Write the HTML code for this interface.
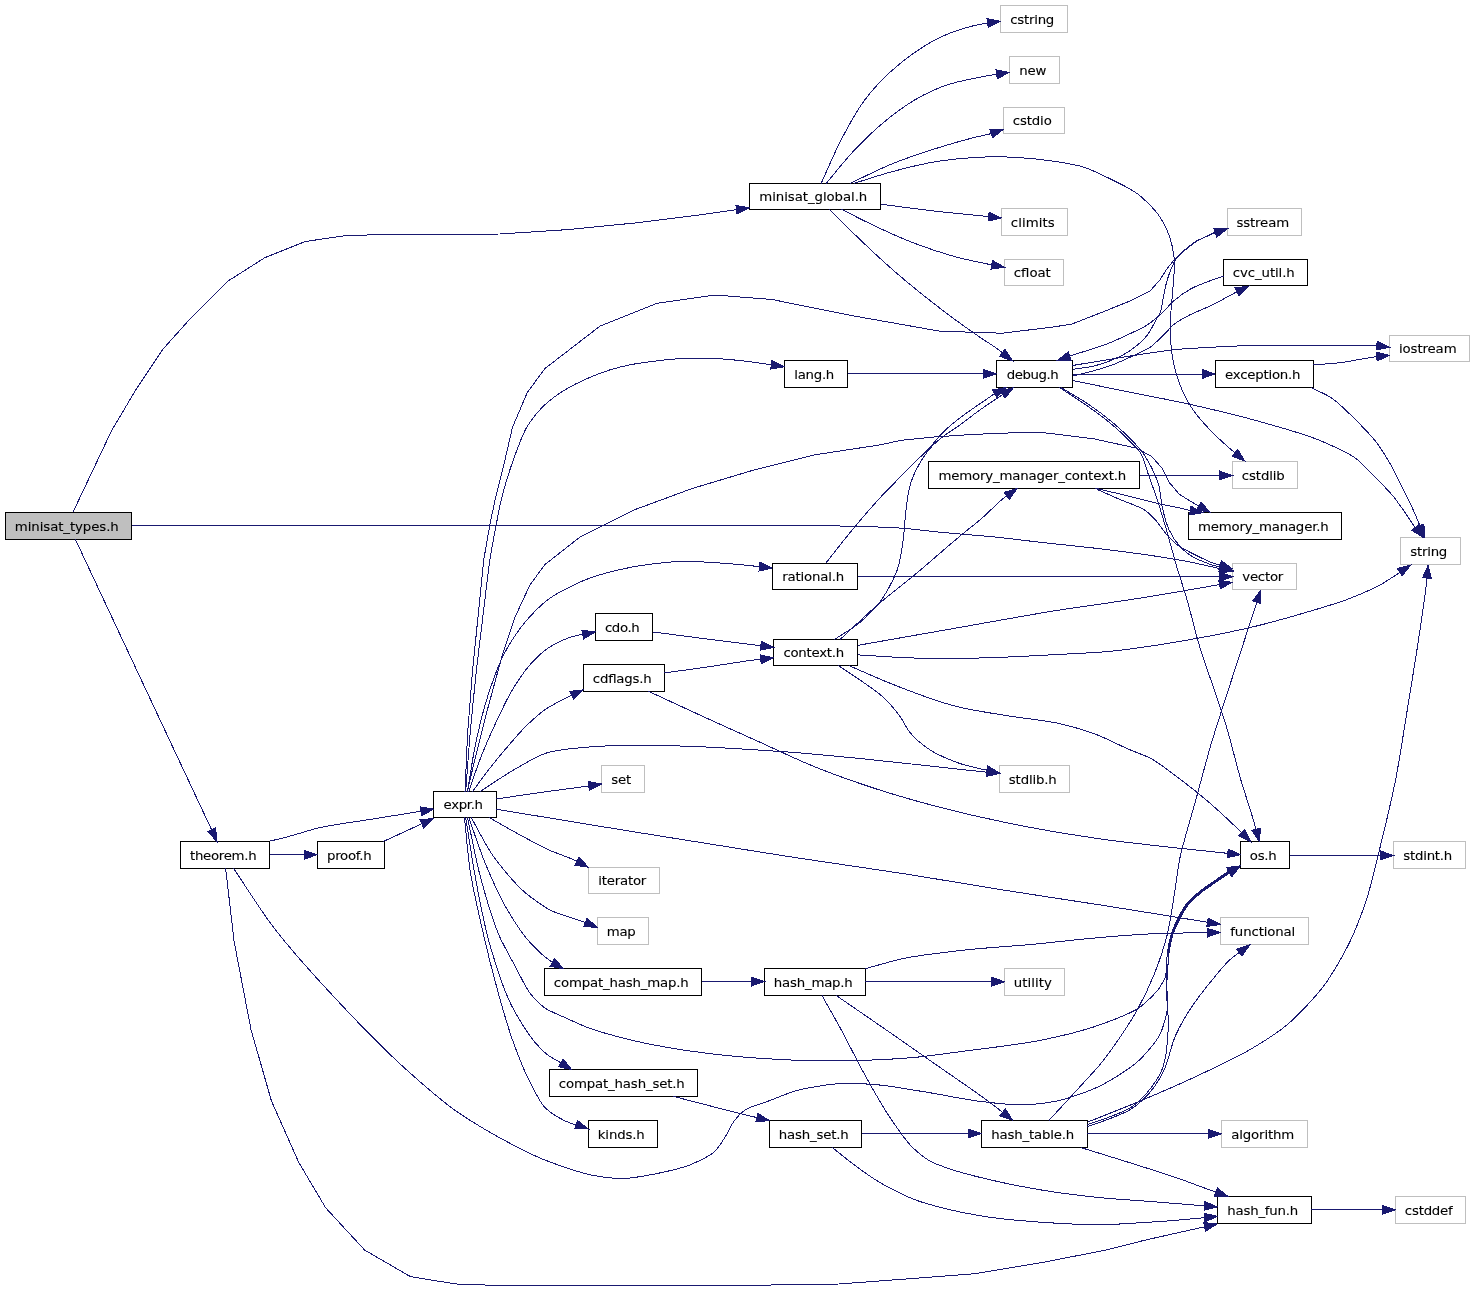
<!DOCTYPE html>
<html><head><meta charset="utf-8"><title>minisat_types.h include graph</title>
<style>html,body{margin:0;padding:0;background:#fff}svg{display:block}text{stroke:#000;stroke-width:0.12px;font-family:"DejaVu Sans","Liberation Sans",sans-serif;font-size:13.33px;fill:#000;text-anchor:middle}.e{fill:none;stroke:#191970;stroke-width:1}.a{fill:#191970;stroke:#191970;stroke-width:1}.f{fill:#fff;stroke:#000}.s{fill:#fff;stroke:#bfbfbf}.r{fill:#bfbfbf;stroke:#000}</style></head><body>
<svg width="1474" height="1290" viewBox="0 0 1474 1290" style="will-change:transform">
<rect x="0" y="0" width="1474" height="1290" fill="#fff"/>
<g shape-rendering="crispEdges">
<rect class="r" x="5.5" y="512.5" width="126" height="27"/>
<rect class="f" x="180.5" y="841.5" width="89" height="27"/>
<rect class="f" x="317.5" y="841.5" width="67" height="27"/>
<rect class="f" x="433.5" y="791.5" width="63" height="26"/>
<rect class="f" x="749.5" y="183.5" width="131" height="26"/>
<rect class="f" x="784.5" y="360.5" width="63" height="27"/>
<rect class="f" x="772.5" y="563.5" width="85" height="26"/>
<rect class="f" x="773.5" y="639.5" width="84" height="26"/>
<rect class="f" x="595.5" y="613.5" width="57" height="27"/>
<rect class="f" x="583.5" y="664.5" width="81" height="27"/>
<rect class="s" x="601.5" y="765.5" width="43" height="27"/>
<rect class="s" x="588.5" y="867.5" width="71" height="26"/>
<rect class="s" x="597.5" y="917.5" width="51" height="27"/>
<rect class="f" x="544.5" y="968.5" width="157" height="27"/>
<rect class="f" x="549.5" y="1069.5" width="148" height="27"/>
<rect class="f" x="588.5" y="1120.5" width="69" height="27"/>
<rect class="f" x="764.5" y="968.5" width="101" height="27"/>
<rect class="f" x="769.5" y="1120.5" width="92" height="27"/>
<rect class="s" x="1000.5" y="5.5" width="67" height="27"/>
<rect class="s" x="1009.5" y="56.5" width="50" height="27"/>
<rect class="s" x="1003.5" y="107.5" width="61" height="26"/>
<rect class="s" x="1001.5" y="208.5" width="66" height="27"/>
<rect class="s" x="1004.5" y="259.5" width="59" height="26"/>
<rect class="f" x="996.5" y="360.5" width="76" height="27"/>
<rect class="f" x="928.5" y="461.5" width="211" height="27"/>
<rect class="s" x="999.5" y="765.5" width="70" height="27"/>
<rect class="s" x="1004.5" y="968.5" width="60" height="27"/>
<rect class="f" x="981.5" y="1120.5" width="106" height="27"/>
<rect class="s" x="1227.5" y="208.5" width="74" height="27"/>
<rect class="f" x="1223.5" y="259.5" width="84" height="26"/>
<rect class="f" x="1215.5" y="360.5" width="98" height="27"/>
<rect class="s" x="1232.5" y="461.5" width="65" height="27"/>
<rect class="f" x="1188.5" y="512.5" width="153" height="27"/>
<rect class="s" x="1232.5" y="563.5" width="64" height="26"/>
<rect class="f" x="1240.5" y="841.5" width="49" height="27"/>
<rect class="s" x="1220.5" y="917.5" width="88" height="27"/>
<rect class="s" x="1221.5" y="1120.5" width="86" height="27"/>
<rect class="f" x="1217.5" y="1196.5" width="94" height="27"/>
<rect class="s" x="1389.5" y="335.5" width="80" height="26"/>
<rect class="s" x="1400.5" y="537.5" width="60" height="27"/>
<rect class="s" x="1393.5" y="841.5" width="72" height="27"/>
<rect class="s" x="1395.5" y="1196.5" width="70" height="27"/>
</g>
<g class="e" shape-rendering="crispEdges">
<path d="M72.9,512.4C72.9,512.4 111.9,430 111.9,430C111.9,430 135.7,390.1 135.7,390.1C135.7,390.1 162.8,349.4 162.8,349.4C162.8,349.4 190,318.9 190,318.9C190,318.9 227.3,281.5 227.3,281.5C227.3,281.5 264.6,257.8 264.6,257.8C264.6,257.8 305.3,241.5 305.3,241.5C305.3,241.5 349.4,235.1 349.4,235.1C349.4,235.1 424,234.7 424,234.7C424,234.7 500,234 500,234C500,234 567.8,229.6 567.8,229.6C567.8,229.6 635.7,222.9 635.7,222.9C635.7,222.9 703.5,214.4 703.5,214.4C703.5,214.4 749.3,207.9 749.3,207.9"/>
<path d="M131.6,525.6C173.7,525.6 257.9,525.6 300,525.6C350,525.6 450,525.6 500,525.6C550,525.6 650,525.6 700,525.6C725,525.6 775,525.6 800,525.7C810,525.8 829.9,525.8 839.9,526C856.7,526.3 890.3,527.2 907,528.6C915.2,529.3 931.6,531.4 939.8,532.2C954.8,533.7 985,535.9 1000,537.5C1009.9,538.6 1029.7,541.1 1039.6,542.2C1056.7,544.2 1090.9,547.5 1108,549.7C1123.1,551.6 1153.4,555.7 1168.4,558.2C1173.8,559.1 1184.6,560.9 1190,562C1197,563.4 1210.8,566.6 1217.7,568.1C1221.4,568.9 1228.8,570.6 1232.5,571.4"/>
<path d="M75.3,539.2L217.1,841.5"/>
<path d="M821.1,183.5C825.8,173.2 834.7,152.4 839.9,142.3C845.5,131.4 857.4,109.7 864.8,99.9C870.4,92.5 883,78.7 889.8,72.4C895.7,67 908.2,56.9 914.8,52.4C920.8,48.3 933.2,40.6 939.8,37.5C945.8,34.6 958.3,29.9 964.7,28C969.9,26.5 980.6,24.1 986,23.2C989.6,22.6 996.8,21.7 1000.4,21.2"/>
<path d="M826.1,183.5C832.7,175.7 845.4,159.7 852.4,152.3C861.1,143 879.7,125.3 889.8,117.4C895.8,112.7 908.2,103.8 914.8,99.9C922.5,95.4 938.7,87.7 947.2,84.9C953.3,82.9 965.9,80 972.2,78.7C978.4,77.4 990.9,75.2 997.2,74.2C1000.2,73.7 1006.4,72.9 1009.4,72.4"/>
<path d="M849.9,183.5C859.9,178.8 879.6,169 889.8,164.8C902,159.7 927.1,151.2 939.8,147.3C949.1,144.4 967.8,139.1 977.2,136.8C980.6,136 987.6,134.6 991,133.6C994.2,132.7 1000.3,130.4 1003.4,129.3"/>
<path d="M880.6,204.2C895.4,206.1 925,210 939.8,211.7C952.3,213.1 977.2,215.3 989.7,216.7C992.6,217 998.5,217.7 1001.4,218"/>
<path d="M841.1,209.2C850.1,213.7 868.1,222.9 877.3,227.2C886.6,231.5 905.3,239.8 914.8,243.4C924,246.9 942.7,253.2 952.2,255.9C961.8,258.6 981.2,262.8 990.9,264.7C994.3,265.4 1001,266.6 1004.4,267.2"/>
<path d="M853.6,183.5C862.6,180.7 880.7,174.8 889.8,172.3C902.2,168.9 927.1,162.9 939.8,161C949.1,159.6 967.8,157.8 977.2,157.3C986.6,156.8 1005.3,156.8 1014.7,157.3C1024.1,157.8 1042.8,159.6 1052.1,161C1060.4,162.2 1077,164.8 1084.9,167.5C1090.9,169.5 1102.3,175 1108,177.8C1115.5,181.4 1130.7,188.7 1137.3,193.7C1143.3,198.2 1154.2,208.8 1158.5,214.9C1162.1,220.1 1167.8,231.4 1169.8,237.4C1171.6,242.8 1173.8,254.2 1174.3,259.9C1175,267.4 1173.3,282.3 1172.8,289.8C1172.3,297.9 1170.4,314.2 1170.3,322.3C1170.2,329.8 1170.8,344.8 1171.8,352.2C1172.7,358.5 1175.3,371.1 1177.3,377.2C1179.6,384.4 1185.8,398.3 1189.7,404.7C1193.8,411.5 1204.2,423.8 1209.7,429.6C1214.4,434.6 1224.5,443.9 1229.7,448.4C1233.4,451.6 1241,457.9 1244.7,461"/>
<path d="M829.4,209.2C835.1,214.9 846.6,226.5 852.4,232.2C861.6,241.1 880.2,258.7 889.8,267.2C898.9,275.3 917.7,290.8 927.3,298.4C935,304.5 950.6,316.3 958.5,322.1C963.8,326 974.6,333.6 980,337.3C983.7,339.8 991.3,344.6 995,347.2C999.5,350.4 1008.1,357.3 1012.5,360.7"/>
<path d="M269.6,841.2C273.8,840.2 282.2,838.2 286.4,837.1C294.3,835.1 309.8,830 317.7,828.1C331,824.9 358,821.4 371.5,819.2C383.8,817.2 408.4,813.3 420.7,811.3C424,810.8 430.4,809.7 433.7,809.2"/>
<path d="M269.7,854.7L317.2,854.7"/>
<path d="M383.3,841.5L433.5,818.4"/>
<path d="M233.4,868.1C242.9,882.2 261.2,910.9 271.4,924.5C286.9,945.2 321.5,983.6 339.2,1002.5C355.6,1020 389.2,1054.3 407.1,1070.3C418.7,1080.7 442.3,1101.3 455,1110.3C465.2,1117.5 486.5,1130.4 497.4,1136.5C508.4,1142.6 530.8,1154.2 542.4,1159C554.5,1164 579.4,1172.8 592.3,1175.2C599.7,1176.6 614.8,1178.6 622.3,1178.5C630.5,1178.4 646.7,1175.6 654.7,1174C664.2,1172.1 683.3,1167.9 692.2,1164C698.1,1161.4 710.1,1156 714.7,1151.5C717.7,1148.6 722.4,1141.4 724.7,1137.8C727.4,1133.6 731.5,1124.2 734.6,1120.3C736.8,1117.5 741.7,1112.4 744.6,1110.3C749.5,1106.7 761.5,1103.8 767.1,1101.6C774,1098.9 787.8,1093.2 794.9,1091.1C805.8,1087.9 828.5,1084.2 839.9,1083.6C849.2,1083.1 868,1084 877.3,1084.8C889.9,1085.8 914.8,1090.3 927.3,1092.3C939.8,1094.3 964.6,1099.4 977.2,1101C988.4,1102.4 1010.9,1105.1 1022.2,1104.8C1031.1,1104.6 1048.7,1102.7 1057.4,1100.9C1068.4,1098.6 1089.8,1091 1099.9,1086C1110.6,1080.7 1131.2,1068 1139.8,1059.7C1145.5,1054.1 1156.2,1041.9 1159.8,1034.8C1162.7,1029 1166.3,1016.2 1167.3,1009.8C1168.7,1000.8 1165.7,982.4 1166,973.3C1166.2,966.9 1167.1,953.9 1168.2,947.6C1168.9,943.8 1170.5,936.3 1171.7,932.6C1173.1,928.5 1176.8,920.6 1178.8,916.7C1180.6,913.3 1184.3,906.5 1186.7,903.5C1189.5,899.9 1196.5,894 1200,891.1C1204.2,887.7 1213.2,881.8 1217.6,878.7C1219.8,877.2 1224.2,874 1226.5,872.6C1229.8,870.6 1236.9,867.5 1240.4,865.8"/>
<path d="M225.6,868.1C225.6,868.1 234.1,941.4 234.1,941.4C234.1,941.4 251,1029.6 251,1029.6C251,1029.6 271.4,1100.8 271.4,1100.8C271.4,1100.8 298.5,1161.9 298.5,1161.9C298.5,1161.9 312,1184.8 312,1184.8C312,1184.8 325.6,1207.7 325.6,1207.7C325.6,1207.7 345.1,1228.9 345.1,1228.9C345.1,1228.9 364.7,1250.1 364.7,1250.1C364.7,1250.1 387.5,1263.3 387.5,1263.3C387.5,1263.3 410.4,1276.6 410.4,1276.6C410.4,1276.6 435.8,1280.8 435.8,1280.8C435.8,1280.8 461.3,1284.7 461.3,1284.7C461.3,1284.7 500,1285.2 500,1285.2C500,1285.2 600,1285.2 600,1285.2C600,1285.2 771.4,1285 771.4,1285C771.4,1285 839.2,1284 839.2,1284C839.2,1284 907.1,1278.9 907.1,1278.9C907.1,1278.9 974,1273.8 974,1273.8C974,1273.8 1044.6,1262.1 1044.6,1262.1C1044.6,1262.1 1108,1249.6 1108,1249.6C1108,1249.6 1144.3,1240.3 1144.3,1240.3C1144.3,1240.3 1217.2,1224 1217.2,1224"/>
<path d="M465,791.7C465,791.7 467.5,734.8 467.5,734.8C467.5,734.8 472.4,672.4 472.4,672.4C472.4,672.4 478.7,609.9 478.7,609.9C478.7,609.9 483.7,560 483.7,560C483.7,560 489.9,524.7 489.9,524.7C489.9,524.7 495,500 495,500C495,500 505,459.8 505,459.8C505,459.8 512.5,427.3 512.5,427.3C512.5,427.3 527.4,392.3 527.4,392.3C527.4,392.3 544.9,368.6 544.9,368.6C544.9,368.6 599.9,326.2 599.9,326.2C599.9,326.2 657.3,303.2 657.3,303.2C657.3,303.2 714.7,295 714.7,295C714.7,295 772.1,299.5 772.1,299.5C772.1,299.5 848,314.9 848,314.9C848,314.9 939.8,331.2 939.8,331.2C939.8,331.2 1002.2,333.2 1002.2,333.2C1002.2,333.2 1050,327.4 1050,327.4C1050,327.4 1071.2,324.3 1071.2,324.3C1071.2,324.3 1099.9,313.1 1099.9,313.1C1099.9,313.1 1131.1,300.6 1131.1,300.6C1131.1,300.6 1149.9,291.2 1149.9,291.2C1149.9,291.2 1160,279.8 1160,279.8C1160,279.8 1166.5,269.5 1166.5,269.5C1166.5,269.5 1174.1,259.7 1174.1,259.7C1174.1,259.7 1181.7,252.1 1181.7,252.1C1181.7,252.1 1195.8,241.3 1195.8,241.3C1195.8,241.3 1214.3,232.6 1214.3,232.6C1214.3,232.6 1227.6,228.7 1227.6,228.7"/>
<path d="M465.7,791.7C466.8,777.5 468.8,749 470,734.8C471.4,719.2 474.5,688 476.2,672.4C477.9,656.8 481.8,625.5 483.7,609.9C485.2,597.4 488,572.4 489.9,560C491.3,551.1 494.5,533.5 496.2,524.7C497.4,518.5 499.7,506.1 501.2,500C503.5,490.4 509.2,471.6 512.5,462.3C515.8,453.1 522.2,434.4 527.4,426.1C531.1,420.3 539.9,409.5 544.9,404.8C549.4,400.5 559.6,393.2 564.9,389.9C570.8,386.2 583.5,380.2 589.9,377.4C594.8,375.3 604.7,371.5 609.8,369.9C614.7,368.4 624.8,365.9 629.8,364.9C636,363.6 648.5,361.9 654.8,361.1C661,360.3 673.5,359 679.8,358.6C689.1,358 707.9,358.1 717.2,358.6C724.1,359 737.8,360.3 744.7,361.1C751.6,361.9 765.3,363.9 772.1,364.9C775.1,365.4 781.1,366.3 784.1,366.8"/>
<path d="M467,791.7C467,791.7 474.9,759.8 474.9,759.8C474.9,759.8 487.4,709.8 487.4,709.8C487.4,709.8 502.4,654.9 502.4,654.9C502.4,654.9 514.9,617.4 514.9,617.4C514.9,617.4 529.9,585 529.9,585C529.9,585 544.9,564.6 544.9,564.6C544.9,564.6 579.8,537.2 579.8,537.2C579.8,537.2 634.7,509.7 634.7,509.7C634.7,509.7 692.2,488.5 692.2,488.5C692.2,488.5 754.6,469.8 754.6,469.8C754.6,469.8 814.9,454.8 814.9,454.8C814.9,454.8 880,444.9 880,444.9C880,444.9 901.7,440.2 901.7,440.2C901.7,440.2 934.3,437 934.3,437C934.3,437 966.8,434.8 966.8,434.8C966.8,434.8 999.4,433.2 999.4,433.2C999.4,433.2 1040,432.3 1040,432.3C1040,432.3 1060,434.6 1060,434.6C1060,434.6 1094.1,438.9 1094.1,438.9C1094.1,438.9 1136.8,448.2 1136.8,448.2C1136.8,448.2 1152.1,456.8 1152.1,456.8C1152.1,456.8 1162.4,468.7 1162.4,468.7C1162.4,468.7 1169.2,482.4 1169.2,482.4C1169.2,482.4 1179.4,494.3 1179.4,494.3C1179.4,494.3 1193.1,502.8 1193.1,502.8C1193.1,502.8 1210.1,512.2 1210.1,512.2"/>
<path d="M467.5,791.7C469.4,780.6 472.6,758.3 474.9,747.3C477.5,734.7 483.5,709.6 487.4,697.3C491.1,685.8 499.2,663 504.9,652.4C509.2,644.5 519.1,629.3 524.9,622.4C530,616.3 541.1,604.9 547.4,600C555.8,593.5 575,584 584.8,580C595.6,575.6 618.4,569.8 629.8,567.5C642.1,565 667.1,561.9 679.7,561.4C692.2,560.9 717.1,562.8 729.6,563.7C740.3,564.5 761.6,566.9 772.3,568"/>
<path d="M468.7,791.7C471.5,783.7 476.8,767.7 479.9,759.8C483.3,750.9 490.9,733.4 494.9,724.8C499,715.9 507.3,698.2 512.4,689.8C516.4,683.3 524.8,670.6 529.9,664.9C533.9,660.4 542.5,652 547.4,648.6C552.5,645 563.9,639.5 569.8,637.4C575.9,635.2 588.9,633.3 595.3,631.9"/>
<path d="M472.4,791.7C475.5,787.5 481.7,778.9 484.9,774.7C489.7,768.3 499.7,755.9 504.9,749.8C509.8,744.1 519.5,732.6 524.9,727.3C529.6,722.6 539.4,713.6 544.9,709.8C549.6,706.5 559.7,701.2 564.8,698.6C569.4,696.3 578.7,692 583.3,689.8"/>
<path d="M479.9,791.7C487.4,786.8 502.2,776.8 509.9,772.2C518.4,767.1 535.6,756.9 544.9,753.5C559.1,748.4 589.7,747 604.8,746C623.5,744.7 661,745.5 679.7,746C698.4,746.5 735.9,748.6 754.6,749.8C765.5,750.5 787.2,751.9 798,752.8C813.5,754 844.4,757 859.9,758.5C884.9,761 934.8,766.6 959.8,769.3C969.7,770.4 989.6,772.5 999.5,773.5"/>
<path d="M496.4,799C507.9,797.3 530.9,793.8 542.4,792.2C551.7,790.9 570.5,788.5 579.8,787.2C585.2,786.4 596.1,784.8 601.5,784"/>
<path d="M496.4,809.2C514.3,812.2 550.1,818.1 568,821C586,824 622,829.9 640,832.8C660,836 700,842.4 720,845.6C739.5,848.7 778.5,855 798,858C825.9,862.3 881.9,870.2 909.8,874.6C932.4,878.2 977.4,885.9 1000,889.5C1025,893.5 1074.9,901 1099.9,904.9C1118.6,907.9 1156.1,913.8 1174.8,916.9C1186.2,918.8 1208.8,922.5 1220.2,924.4"/>
<path d="M488.7,817.3C495.9,821.3 510.2,829.6 517.4,833.5C525.4,837.9 541.5,846.7 549.9,850.4C556,853.1 568.7,857.4 574.8,860.2C578.3,861.8 585,865.5 588.4,867.2"/>
<path d="M471.2,817.5C476.5,826.9 486.3,846.1 492.4,854.9C499.5,865.1 515.4,884.4 524.9,892.4C531.2,897.8 544.8,907.6 552.3,911.1C556.5,913.1 565.4,915.9 569.8,917.4C573.5,918.7 581.1,920.9 584.8,922.3C588,923.5 594.2,926 597.3,927.3"/>
<path d="M468.7,817.5C472.8,828.7 480.3,851.4 484.9,862.4C489.9,874.5 500.7,898.6 507.4,909.9C512.4,918.4 523.2,935 529.9,942.3C535,947.8 546,958.2 552.3,962.3C555,964.1 560.8,967.2 563.6,968.8"/>
<path d="M467.5,817.5C470.6,831.9 476.1,860.7 479.9,874.9C484.1,890.7 493.1,922.4 499.9,937.3C503.5,945.2 512,960.4 516.1,968C519.5,974.3 525.5,987.4 529.9,993C533.2,997.2 540.6,1004.9 544.9,1008C549.4,1011.2 559.8,1015.2 564.8,1017.5C569.8,1019.8 579.7,1024.4 584.8,1026.4C596.9,1031.2 622.1,1037.9 634.7,1040.9C652,1045 687.1,1050.7 704.7,1053C717.1,1054.6 742.1,1057 754.6,1057.9C765.4,1058.7 787.1,1059.9 798,1060.3C811.6,1060.8 838.8,1060.9 852.4,1060.6C868,1060.3 899.2,1058.8 914.8,1057.4C927.3,1056.2 952.2,1052.7 964.7,1051.1C983.4,1048.6 1021.1,1044.3 1039.6,1040.5C1054.9,1037.4 1085.3,1030.1 1099.9,1024.8C1110.1,1021.1 1131.1,1013.8 1139.8,1007.3C1145.5,1003.1 1155.9,993.2 1159.8,987.3C1161.9,984.2 1165.5,977.5 1166.7,974C1168.8,967.9 1167.8,954.6 1168.9,948.3C1169.6,944.5 1171.2,937 1172.4,933.3C1173.8,929.2 1177.5,921.3 1179.5,917.4C1181.3,914 1185,907.2 1187.4,904.2C1190.2,900.6 1197.2,894.7 1200.7,891.8C1204.9,888.4 1213.9,882.5 1218.3,879.4C1220.5,877.9 1224.9,874.7 1227.2,873.3C1230.4,871.3 1237.1,867.7 1240.4,865.8"/>
<path d="M465.7,817.5C468,831.9 472.3,860.6 474.9,874.9C478.1,892.5 484.9,927.6 489.9,944.8C494.5,960.7 504.7,992.5 512.4,1007.2C517.2,1016.4 528,1034.4 534.9,1042.2C537.8,1045.5 543.9,1052 547.4,1054.7C550.3,1056.9 556.7,1060.3 559.8,1062.2C562.8,1064.1 568.8,1067.8 571.8,1069.7"/>
<path d="M464.5,817.5C465.9,830.6 468,856.9 470,869.9C472.3,885 479,914.9 482.4,929.8C485.8,944.9 493.3,974.9 497.4,989.8C500.9,1002.4 508,1027.4 512.4,1039.7C516.3,1050.5 524.6,1071.9 529.9,1082.1C533.3,1088.6 539.7,1102.2 544.9,1107.4C549.1,1111.7 559.4,1118.1 564.8,1120.8C570.4,1123.6 582.4,1127 588.3,1129"/>
<path d="M847.6,373.8L996.4,373.8"/>
<path d="M1072.5,369.3C1077.8,368.5 1088.5,367.4 1093.7,366.1C1098.5,364.9 1107.9,361.8 1112.4,359.9C1117.3,357.8 1126.8,353 1131.1,349.9C1135.6,346.7 1144,339.3 1147.4,334.9C1150.5,331 1154.9,321.9 1157.4,317.5C1158.1,316.4 1159.4,314.1 1160,312.9C1161.7,309.4 1162.5,301.5 1163.3,297.7C1164.1,293.9 1165.5,286.2 1166.5,282.5C1167.4,279.2 1169.6,272.7 1170.9,269.5C1172.1,266.7 1174.4,261 1176.3,258.6C1177.5,257.1 1180.3,254.5 1181.7,253.2C1185,250.1 1192,244.3 1195.8,241.9C1200.1,239.2 1209.5,235.1 1214.3,233.2C1217.6,231.9 1224.3,229.8 1227.6,228.7"/>
<path d="M1072.5,376.1C1076.9,375 1085.7,373 1090,371.8C1095.7,370.3 1106.9,366.9 1112.4,364.9C1118.2,362.7 1129.3,357.6 1134.9,354.9C1138.7,353.1 1146.4,349.8 1149.9,347.4C1153.4,345 1159.4,339.1 1162.4,336.2C1165.6,333.2 1171.3,326.4 1174.8,323.7C1177.7,321.5 1184.1,317.9 1187.3,316.2C1193.3,312.9 1206.2,308 1212.3,305C1218.6,301.9 1230.9,294.8 1237.2,291.6C1240,290.2 1245.6,287.5 1248.4,286.1"/>
<path d="M1223.4,276.1C1220.6,277.1 1215.1,279 1212.3,280C1206.9,282 1196.1,285.9 1191.1,288.7C1186.8,291.1 1178.6,296.8 1174.8,300C1170.7,303.4 1163.9,311.5 1159.9,315C1156.9,317.6 1150.7,322.7 1147.4,324.9C1142.7,328 1132.5,332.5 1127.4,334.9C1122.2,337.4 1111.6,342.2 1106.2,344.3C1101.6,346.1 1092.2,349 1087.5,350.5C1083.4,351.8 1075.2,354.2 1071.2,355.5C1067.8,356.6 1060.9,359.1 1057.5,360.3"/>
<path d="M1072.5,365.5C1088.7,362.9 1121.1,357.3 1137.4,354.9C1146.7,353.5 1165.4,350.7 1174.8,349.7C1189.5,348.1 1219.2,346.9 1234,346.2C1239.4,345.9 1250.3,345.5 1255.8,345.3C1266.8,345 1288.9,345.2 1300,345.2C1310,345.2 1330,345.3 1340,345.4C1349.3,345.4 1367.8,344.7 1377,345.6C1380.1,345.9 1386.4,346.9 1389.5,347.3"/>
<path d="M1072.6,374L1215.2,374"/>
<path d="M1072.6,380.5C1086.9,383.4 1115.5,389.3 1129.8,392.2C1142.6,394.8 1168.2,399.6 1180.9,402.4C1199.7,406.5 1237.2,415.3 1255.8,420.5C1271.5,424.9 1303.1,433.5 1318.2,439.8C1327.8,443.8 1347.3,452.1 1355.7,458.3C1361.9,462.9 1372.4,474.3 1377.8,479.8C1381.7,483.8 1389.6,491.9 1393.2,496.3C1396.4,500.2 1402.2,508.5 1405.1,512.6C1407.3,515.8 1411.5,522.4 1413.8,525.6C1416,528.7 1420.9,534.5 1423.3,537.5"/>
<path d="M1060.8,387.4C1067.6,391.5 1081.5,399.5 1088.1,404C1094.6,408.4 1107.1,417.8 1113,422.8C1117.9,426.9 1127.3,435.6 1131.7,440.2C1134.1,442.7 1138.9,447.8 1141,450.5C1144.3,454.7 1149.7,463.9 1152.1,468.7C1154.1,472.8 1157.6,481.4 1158.9,485.8C1160.4,491.2 1161.1,502.4 1162.4,507.9C1163.7,513.6 1166.7,524.9 1169.2,530.1C1171.3,534.5 1176.7,542.9 1180,546.5C1182.2,548.9 1187.3,553.2 1190,555.1C1194.6,558.3 1205.1,562.5 1210.4,564.4C1215.8,566.3 1227,568.7 1232.5,570.1"/>
<path d="M1059.2,387.4C1066.1,391.9 1080.1,400.8 1086.9,405.6C1093.3,410.1 1105.9,419.4 1111.8,424.4C1116.7,428.5 1126,437.2 1130.5,441.8C1132.9,444.3 1138,449.1 1140,452C1143.6,457.1 1146.6,469.6 1148.7,475.5C1150.9,481.5 1155.2,493.4 1157.2,499.4C1160,507.8 1165,524.9 1167.5,533.5C1169.7,541.2 1173.8,556.6 1176,564.2C1178.6,573.2 1184.5,591 1187.1,600C1190.2,610.5 1195.3,631.9 1198.4,642.4C1201.8,653.8 1209.6,676.2 1213.4,687.4C1216.5,696.8 1223,715.4 1225.9,724.8C1230.1,738.4 1236.8,766.1 1240.8,779.8C1243.8,789.8 1250.3,809.7 1253.3,819.7C1254.9,825.2 1258,836.2 1259.6,841.7"/>
<path d="M1313.5,364.9C1320.1,364.3 1333.4,363.5 1340,362.7C1349.4,361.6 1367.9,357.6 1377.3,356.5C1380.3,356.2 1386.5,355.6 1389.5,355.3"/>
<path d="M1310.7,387.4C1315.7,389.9 1326,394.4 1330.7,397.4C1337.8,401.9 1349.7,414 1355.7,419.9C1360.9,425.1 1371.2,435.7 1375.7,441.5C1379.7,446.7 1386.7,457.8 1390,463.5C1392.3,467.5 1396.5,475.9 1398.6,480C1401.4,485.4 1406.8,496.2 1409.4,501.7C1411.7,506.5 1416,516.3 1418.1,521.2C1419.8,525.2 1423,533.4 1424.6,537.5"/>
<path d="M825.6,563.4C832.3,555 845.5,538 852.4,529.7C859.1,521.6 872.9,505.6 880,497.8C887.4,489.8 902.8,474.5 910.4,466.8C915.5,461.6 926.1,451.6 931,446.2C933.5,443.4 938.2,437.3 940.8,434.6C944.3,430.9 952,424.2 956,421C959.9,417.8 968.2,411.9 972.3,409C976.3,406.2 984.5,400.7 988.5,397.9C989.9,397 992.6,395 994,394.1C996.9,392.3 1002.9,389.2 1005.9,387.6"/>
<path d="M857.6,576.7L1232.6,576.7"/>
<path d="M652.5,631.9C665.5,633.6 691.6,637 704.7,638.7C717.2,640.3 742.1,643.3 754.6,644.9C759.4,645.5 768.9,646.8 773.6,647.4"/>
<path d="M664.5,672.9C674.5,671.5 694.7,668.8 704.7,667.4C717.2,665.6 742.1,661.4 754.6,659.9C759.3,659.3 768.9,658.4 773.6,657.9"/>
<path d="M648,691.1C662.2,697.6 690.5,710.8 704.7,717.3C717.2,723 742.1,734.2 754.6,739.8C768.4,746 795.9,759 809.9,764.8C822.2,769.9 847.3,779.2 859.9,783.5C878.4,789.9 915.9,801 934.8,806C953.4,810.9 990.9,819.6 1009.7,823.4C1033.6,828.3 1081.8,836.3 1106,839.7C1124.7,842.3 1162.2,846.3 1180.9,848.4C1195.8,850 1225.7,853.1 1240.6,854.7"/>
<path d="M834.2,639.7C840.6,635.4 854,627.4 859.9,622.4C865.4,617.8 875.6,607.7 879.9,602C885.5,594.7 894.3,578.4 897.3,569.7C900,561.9 902.5,545.4 903.5,537.2C904,532.9 904.6,524.3 905,520C905.4,516.2 906.1,508.6 906.6,504.8C907.1,500.7 908.3,492.5 909.3,488.5C910,485.8 911.6,480.3 912.6,477.7C914.1,473.7 918,466.2 920.2,462.5C921.7,460 924.9,455 926.7,452.7C928,451 930.7,447.7 932.1,446.2C934.8,443.3 940.9,438.2 944,435.8C947.6,433 955.5,428.2 959.2,425.6C963.9,422.2 973,414.9 977.7,411.5C983.6,407.3 995.5,399.2 1001.6,395.2C1004.6,393.3 1010.5,389.5 1013.5,387.6"/>
<path d="M839.9,639.7C849.3,631 867.7,613.4 877.4,605C886.5,597.1 905.5,582.4 914.8,574.7C927.4,564.3 952,542.5 964.7,532.2C968.5,529.1 976.2,523.1 979.9,520C986.4,514.6 998.1,502.3 1004.8,497.2C1007.8,494.9 1014.2,490.7 1017.3,488.5"/>
<path d="M857.6,645.4C883.1,640.9 934.2,631.9 959.8,627.4C984.7,623 1034.6,613.9 1059.6,610C1076.7,607.3 1111.1,602.7 1128.2,600C1138.3,598.4 1158.4,595.2 1168.4,593.5C1184.4,590.8 1216.2,585.1 1232.2,582.3"/>
<path d="M857.6,654.9C870.6,655.6 896.7,657.5 909.8,657.9C928.5,658.5 966,658.3 984.7,657.9C1003.4,657.5 1040.9,655.4 1059.6,654.4C1071.2,653.8 1094.4,652.7 1106,651.7C1124.8,650 1162.3,644.4 1180.9,641.2C1199.7,638 1237.2,630.7 1255.8,626.2C1268.4,623.1 1293.3,616.2 1305.7,612.5C1315.7,609.5 1335.9,603.7 1345.7,600C1354.6,596.6 1372.3,589.2 1380.7,584.6C1388.5,580.3 1403.1,570.1 1410.6,565.2"/>
<path d="M848.6,665.4C857.6,669.3 875.7,677.4 884.8,681.1C903.2,688.6 940.5,702.6 959.8,707.3C972.1,710.3 997.2,714.1 1009.7,716.1C1022.2,718.1 1047.3,720.7 1059.6,723.6C1069.1,725.8 1088,731.3 1097.1,734.8C1105,737.8 1120.2,745.6 1128,749C1133.7,751.5 1145.4,755.6 1150.9,758.5C1159,762.8 1173.6,774.3 1180.9,779.8C1187.3,784.6 1199.8,794.5 1205.9,799.7C1212.3,805.1 1224.7,816.4 1230.8,822.2C1235.9,827 1245.8,836.8 1250.8,841.7"/>
<path d="M837.9,665.4C843.4,669 854.5,676.1 859.9,679.9C866.3,684.4 879.2,693.2 884.8,698.6C888.9,702.6 896.4,711.4 899.8,716.1C902.6,720 906.8,728.6 909.8,732.3C914,737.5 924.3,746.1 929.8,749.8C936.7,754.4 952,760.9 959.8,763.5C965.9,765.6 978.4,768.4 984.7,769.8C988.4,770.6 995.8,772.2 999.5,773"/>
<path d="M1139.5,475.5L1232.6,475.5"/>
<path d="M1095,488.2C1103.3,490.1 1119.9,494 1128.2,496C1136.8,498.1 1153.8,502.6 1162.4,504.5C1166.6,505.4 1175.2,506.9 1179.4,507.9C1182.2,508.5 1187.7,510 1190.5,510.6C1193.6,511.2 1199.9,512.1 1203,512.6"/>
<path d="M1096.7,489.2C1102.5,491.8 1113.9,496.9 1119.7,499.4C1126.1,502.2 1139.7,506.4 1145.3,510.5C1148.1,512.6 1153.1,517.4 1155.5,519.9C1158.4,523 1163,530.3 1165.8,533.5C1168.6,536.7 1174.5,543 1178,545.5C1180.8,547.5 1187,550.6 1190,552.2C1195,554.8 1205.1,559.9 1210.4,562C1215.8,564.1 1227,567.2 1232.5,568.9"/>
<path d="M1289.5,855.4L1393.4,855.4"/>
<path d="M701.7,981.6L764.4,981.6"/>
<path d="M865.3,968.7C874.5,966.2 892.9,960.8 902.3,958.7C917.7,955.3 949.1,951.8 964.7,950C983.4,947.9 1020.9,945.6 1039.6,943.7C1048.4,942.8 1066.1,940.8 1074.9,939.9C1093.6,938.1 1131,934.8 1149.8,933.9C1167.4,933 1202.6,932.8 1220.2,932.4"/>
<path d="M865.3,981.7L1004.4,981.7"/>
<path d="M836.1,995.4C849.5,1004.6 876.4,1023.1 889.8,1032.4C902.3,1041.1 927.3,1058.6 939.8,1067.3C952.3,1076 977.5,1093.1 989.7,1102.3C995.5,1106.7 1007,1115.8 1012.7,1120.3"/>
<path d="M821.9,995.4C826.4,1003.4 835.5,1019.3 839.9,1027.4C846.3,1039.1 858.3,1063.1 864.8,1074.8C870.8,1085.6 882.9,1107.1 889.8,1117.3C895.1,1125 905.5,1140.7 912.3,1147.2C916.3,1151.1 925,1158.2 929.8,1161C935,1164 946.5,1167.8 952.2,1169.7C961.4,1172.8 980.3,1177.5 989.7,1179.7C1002.1,1182.6 1027.1,1187.6 1039.6,1189.7C1056.6,1192.6 1090.8,1196.8 1108,1198.4C1117.1,1199.2 1135.2,1200.3 1144.3,1201C1162.6,1202.4 1199,1205.4 1217.3,1206.9"/>
<path d="M673.4,1096.4C687.5,1100 715.5,1107.4 729.6,1110.9C739.5,1113.4 759.5,1118.2 769.4,1120.6"/>
<path d="M861.6,1133.6L981.2,1133.6"/>
<path d="M831.9,1147.2C837,1151.3 847.2,1159.6 852.4,1163.5C858.5,1168.1 870.8,1176.9 877.3,1180.9C886.2,1186.4 905,1196 914.8,1199.7C923.9,1203.2 942.7,1208 952.2,1210.2C961.5,1212.4 980.3,1215.8 989.7,1217.2C1002.1,1219 1027.1,1221.2 1039.6,1222.1C1056.7,1223.3 1090.9,1225.1 1108,1224.6C1113.6,1224.4 1124.7,1223.7 1130.2,1223.4C1140.8,1222.8 1161.9,1221.4 1172.4,1220.6C1183.6,1219.7 1206.1,1217.5 1217.3,1216.4"/>
<path d="M1087.4,1124.7C1093.1,1122.7 1104.4,1119 1110,1116.8C1115.1,1114.8 1125.4,1110.9 1130,1108C1133.1,1106 1138.8,1101.3 1141.5,1098.8C1144.8,1095.7 1150.5,1088.7 1153.1,1085C1155.8,1081.2 1160.6,1073.2 1162.3,1068.8C1163.6,1065.5 1165.2,1058.5 1165.8,1055C1166.5,1051.3 1167.2,1043.8 1167.5,1040C1167.9,1035.6 1168.3,1026.7 1168.3,1022.3C1168.4,1014.2 1166.3,998.1 1166.5,990C1166.6,986.2 1167.1,978.5 1167.4,974.7C1167.8,968.3 1168.5,955.3 1169.6,949C1170.3,945.2 1171.9,937.7 1173.1,934C1174.5,929.9 1178.2,922 1180.2,918.1C1182,914.7 1185.7,907.9 1188.1,904.9C1190.9,901.3 1197.9,895.4 1201.4,892.5C1205.6,889.1 1214.6,883.2 1219,880.1C1221.2,878.6 1225.7,875.5 1227.9,874C1231,871.9 1237.3,867.8 1240.4,865.8"/>
<path d="M1048.9,1120.5C1056,1112.8 1070.1,1097.5 1077.1,1089.8C1082.8,1083.5 1094.5,1071.2 1099.9,1064.7C1110.5,1051.9 1129.3,1024.4 1137.3,1009.8C1142.1,1001.1 1150.6,983.2 1154.3,974C1158.1,964.5 1164.6,945 1167.1,935.1C1169.6,925.3 1172.6,905.3 1174.2,895.3C1175.6,886.5 1177.8,868.8 1179.5,860C1182.5,844.7 1191.8,814.8 1195.9,799.7C1199.6,786 1206.9,758.4 1210.9,744.8C1214.4,732.9 1222.1,709.2 1225.9,697.4C1229.7,685.5 1237.4,661.8 1241.3,649.9C1244.5,639.9 1251.1,620 1254.3,610C1255.9,605 1259.2,595 1260.8,590"/>
<path d="M1087.4,1126.7C1093.1,1124.7 1104.4,1120.8 1110,1118.6C1115.1,1116.6 1125.4,1112.7 1130,1109.8C1133.4,1107.7 1139.8,1102.7 1142.7,1100C1146.1,1096.9 1152.1,1089.9 1154.8,1086.1C1157.7,1082.1 1162.6,1073.4 1164.6,1068.8C1166,1065.5 1168.1,1058.5 1169.2,1055C1170.4,1051.3 1172.4,1043.7 1173.8,1040C1176.8,1032 1185.2,1017 1189.8,1009.8C1194.8,1001.9 1206.3,987.1 1212.2,979.9C1216.4,974.8 1224.8,964.4 1229.7,959.9C1234.3,955.7 1244.7,948.6 1249.7,944.9"/>
<path d="M1087.4,1122.2C1099.9,1117.2 1124.9,1107.4 1137.3,1102.2C1153.1,1095.6 1184.4,1082 1199.8,1074.7C1212.4,1068.7 1237.7,1056.9 1249.7,1049.8C1259.4,1044.1 1278.4,1032 1287.1,1024.8C1297.7,1016.1 1316.4,995.8 1324.6,984.8C1331.9,974.9 1344.2,953.5 1349.6,942.4C1354.3,932.6 1362.2,912.4 1365.7,902.1C1370.5,888.1 1377.2,859.1 1380.7,844.7C1384.7,828.5 1392.3,796.1 1395.6,779.8C1399.3,761.2 1405,723.6 1408.1,704.8C1410.6,689.2 1415.8,658 1418.1,642.4C1420.4,626.8 1425.3,595.7 1426.8,580C1427.2,576.3 1427.8,568.9 1428.1,565.2"/>
<path d="M1087.4,1133.8L1221.2,1133.8"/>
<path d="M1081,1147.6C1093.2,1151.4 1117.8,1158.9 1130,1162.8C1143,1166.9 1169.1,1175 1181.9,1179.6C1186.5,1181.3 1195.8,1184.8 1200.4,1186.5C1207.3,1189 1221.1,1194 1228,1196.5"/>
<path d="M1311.4,1209.9L1395.4,1209.9"/>
</g>
<g class="a" shape-rendering="crispEdges">
<polygon points="749.3,207.9 737.1,214.1 735.9,205.4"/>
<polygon points="1232.5,571.4 1219,572.9 1220.9,564.3"/>
<polygon points="217.1,841.5 207.6,831.7 215.6,828"/>
<polygon points="1000.4,21.2 988.2,27.3 987,18.6"/>
<polygon points="1009.4,72.4 997.3,78.7 996,69.9"/>
<polygon points="1003.4,129.3 992.7,137.7 989.8,129.4"/>
<polygon points="1001.4,218 988.1,221 989.1,212.2"/>
<polygon points="1004.4,267.2 990.9,269.2 992.5,260.5"/>
<polygon points="1244.7,461 1232,456.1 1237.7,449.3"/>
<polygon points="1012.5,360.7 999.6,356.3 1005,349.3"/>
<polygon points="433.7,809.2 421.7,815.6 420.3,806.9"/>
<polygon points="317.2,854.7 304.3,859.1 304.3,850.3"/>
<polygon points="433.5,818.4 423.6,827.8 419.9,819.8"/>
<polygon points="1240.4,865.8 1230.7,875.4 1226.9,867.5"/>
<polygon points="1217.2,1224 1205.6,1231.1 1203.7,1222.5"/>
<polygon points="1227.6,228.7 1216.5,236.6 1214,228.1"/>
<polygon points="784.1,366.8 770.7,369.1 772,360.5"/>
<polygon points="1210.1,512.2 1196.7,509.8 1200.9,502.1"/>
<polygon points="772.3,568 759,571.1 759.9,562.3"/>
<polygon points="595.3,631.9 583.6,638.9 581.8,630.3"/>
<polygon points="583.3,689.8 573.5,699.3 569.8,691.4"/>
<polygon points="999.5,773.5 986.2,776.5 987.1,767.8"/>
<polygon points="601.5,784 589.4,790.2 588.1,781.5"/>
<polygon points="1220.2,924.4 1206.8,926.6 1208.2,918"/>
<polygon points="588.4,867.2 574.9,865.2 578.9,857.4"/>
<polygon points="597.3,927.3 583.7,926.6 587,918.4"/>
<polygon points="563.6,968.8 550.2,966.2 554.6,958.6"/>
<polygon points="1240.4,865.8 1231.4,876 1227,868.3"/>
<polygon points="571.8,1069.7 558.5,1066.6 563.2,1059.1"/>
<polygon points="588.3,1129 574.7,1128.9 577.6,1120.6"/>
<polygon points="996.4,373.8 983.5,378.2 983.5,369.4"/>
<polygon points="1227.6,228.7 1216.8,237 1214,228.7"/>
<polygon points="1248.4,286.1 1238.8,295.7 1234.9,287.9"/>
<polygon points="1057.5,360.3 1068.2,351.9 1071.1,360.2"/>
<polygon points="1389.5,347.3 1376.1,350 1377.3,341.2"/>
<polygon points="1215.2,374 1202.3,378.4 1202.3,369.6"/>
<polygon points="1423.3,537.5 1411.8,530.2 1418.7,524.7"/>
<polygon points="1232.5,570.1 1218.9,571.1 1221.1,562.6"/>
<polygon points="1259.6,841.7 1251.8,830.5 1260.3,828.1"/>
<polygon points="1389.5,355.3 1377.1,361 1376.2,352.2"/>
<polygon points="1424.6,537.5 1415.7,527.1 1423.9,523.9"/>
<polygon points="1005.9,387.6 996.7,397.6 992.5,389.9"/>
<polygon points="1232.6,576.7 1219.7,581.1 1219.7,572.3"/>
<polygon points="773.6,647.4 760.2,650.1 761.4,641.4"/>
<polygon points="773.6,657.9 761.2,663.6 760.3,654.9"/>
<polygon points="1240.6,854.7 1227.3,857.7 1228.2,849"/>
<polygon points="1013.5,387.6 1005,398.3 1000.3,390.8"/>
<polygon points="1017.3,488.5 1009.2,499.5 1004.2,492.3"/>
<polygon points="1232.2,582.3 1220.3,588.9 1218.7,580.2"/>
<polygon points="1410.6,565.2 1402.2,575.9 1397.4,568.5"/>
<polygon points="1250.8,841.7 1238.5,835.8 1244.6,829.5"/>
<polygon points="999.5,773 986,774.6 987.8,766"/>
<polygon points="1232.6,475.5 1219.7,479.9 1219.7,471.1"/>
<polygon points="1203,512.6 1189.6,514.9 1191,506.2"/>
<polygon points="1232.5,568.9 1218.9,569.3 1221.5,560.9"/>
<polygon points="1393.4,855.4 1380.5,859.8 1380.5,851"/>
<polygon points="764.4,981.6 751.5,986 751.5,977.2"/>
<polygon points="1220.2,932.4 1207.4,937.1 1207.2,928.3"/>
<polygon points="1004.4,981.7 991.5,986.1 991.5,977.3"/>
<polygon points="1012.7,1120.3 999.8,1115.8 1005.3,1108.9"/>
<polygon points="1217.3,1206.9 1204.1,1210.2 1204.8,1201.5"/>
<polygon points="769.4,1120.6 755.8,1121.8 757.9,1113.3"/>
<polygon points="981.2,1133.6 968.3,1138 968.3,1129.2"/>
<polygon points="1217.3,1216.4 1204.9,1222 1204,1213.2"/>
<polygon points="1240.4,865.8 1232,876.6 1227.2,869.2"/>
<polygon points="1260.8,590 1261,603.6 1252.6,600.9"/>
<polygon points="1249.7,944.9 1242,956.2 1236.7,949.1"/>
<polygon points="1428.1,565.2 1431.4,578.4 1422.6,577.7"/>
<polygon points="1221.2,1133.8 1208.3,1138.2 1208.3,1129.4"/>
<polygon points="1228,1196.5 1214.4,1196.2 1217.4,1188"/>
<polygon points="1395.4,1209.9 1382.5,1214.3 1382.5,1205.5"/>
</g>
<g>
<text transform="translate(66.8,531) scale(1,0.9)" textLength="104">minisat_types.h</text>
<text transform="translate(223.3,860) scale(1,0.9)" textLength="66.7">theorem.h</text>
<text transform="translate(349.3,860) scale(1,0.9)" textLength="44.7">proof.h</text>
<text transform="translate(463.3,809) scale(1,0.9)" textLength="39.5">expr.h</text>
<text transform="translate(813.3,201) scale(1,0.9)" textLength="108">minisat_global.h</text>
<text transform="translate(814.3,379) scale(1,0.9)" textLength="40">lang.h</text>
<text transform="translate(813.3,581) scale(1,0.9)" textLength="62">rational.h</text>
<text transform="translate(813.8,657) scale(1,0.9)" textLength="60.8">context.h</text>
<text transform="translate(622.3,632) scale(1,0.9)" textLength="34.8">cdo.h</text>
<text transform="translate(622.3,683) scale(1,0.9)" textLength="59">cdflags.h</text>
<text transform="translate(621.3,784) scale(1,0.9)" textLength="20">set</text>
<text transform="translate(622.3,885) scale(1,0.9)" textLength="48">iterator</text>
<text transform="translate(621.3,936) scale(1,0.9)" textLength="29">map</text>
<text transform="translate(621.3,987) scale(1,0.9)" textLength="135">compat_hash_map.h</text>
<text transform="translate(621.8,1088) scale(1,0.9)" textLength="126">compat_hash_set.h</text>
<text transform="translate(621.3,1139) scale(1,0.9)" textLength="47">kinds.h</text>
<text transform="translate(813.3,987) scale(1,0.9)" textLength="79">hash_map.h</text>
<text transform="translate(813.8,1139) scale(1,0.9)" textLength="70">hash_set.h</text>
<text transform="translate(1032.3,24) scale(1,0.9)" textLength="44">cstring</text>
<text transform="translate(1032.8,75) scale(1,0.9)" textLength="27">new</text>
<text transform="translate(1032.3,125) scale(1,0.9)" textLength="39">cstdio</text>
<text transform="translate(1032.8,227) scale(1,0.9)" textLength="44">climits</text>
<text transform="translate(1032.3,277) scale(1,0.9)" textLength="37">cfloat</text>
<text transform="translate(1032.8,379) scale(1,0.9)" textLength="52">debug.h</text>
<text transform="translate(1032.3,480) scale(1,0.9)" textLength="187.8">memory_manager_context.h</text>
<text transform="translate(1032.8,784) scale(1,0.9)" textLength="48">stdlib.h</text>
<text transform="translate(1032.8,987) scale(1,0.9)" textLength="38">utility</text>
<text transform="translate(1032.8,1139) scale(1,0.9)" textLength="83">hash_table.h</text>
<text transform="translate(1262.8,227) scale(1,0.9)" textLength="52.7">sstream</text>
<text transform="translate(1263.8,277) scale(1,0.9)" textLength="62">cvc_util.h</text>
<text transform="translate(1262.8,379) scale(1,0.9)" textLength="75.5">exception.h</text>
<text transform="translate(1263.3,480) scale(1,0.9)" textLength="43">cstdlib</text>
<text transform="translate(1263.3,531) scale(1,0.9)" textLength="130.8">memory_manager.h</text>
<text transform="translate(1262.8,581) scale(1,0.9)" textLength="41">vector</text>
<text transform="translate(1263.3,860) scale(1,0.9)" textLength="27">os.h</text>
<text transform="translate(1262.8,936) scale(1,0.9)" textLength="65">functional</text>
<text transform="translate(1262.8,1139) scale(1,0.9)" textLength="63">algorithm</text>
<text transform="translate(1262.8,1215) scale(1,0.9)" textLength="71">hash_fun.h</text>
<text transform="translate(1427.8,353) scale(1,0.9)" textLength="57.7">iostream</text>
<text transform="translate(1428.8,556) scale(1,0.9)" textLength="37">string</text>
<text transform="translate(1427.8,860) scale(1,0.9)" textLength="49">stdint.h</text>
<text transform="translate(1428.8,1215) scale(1,0.9)" textLength="48">cstddef</text>
</g>
</svg></body></html>
